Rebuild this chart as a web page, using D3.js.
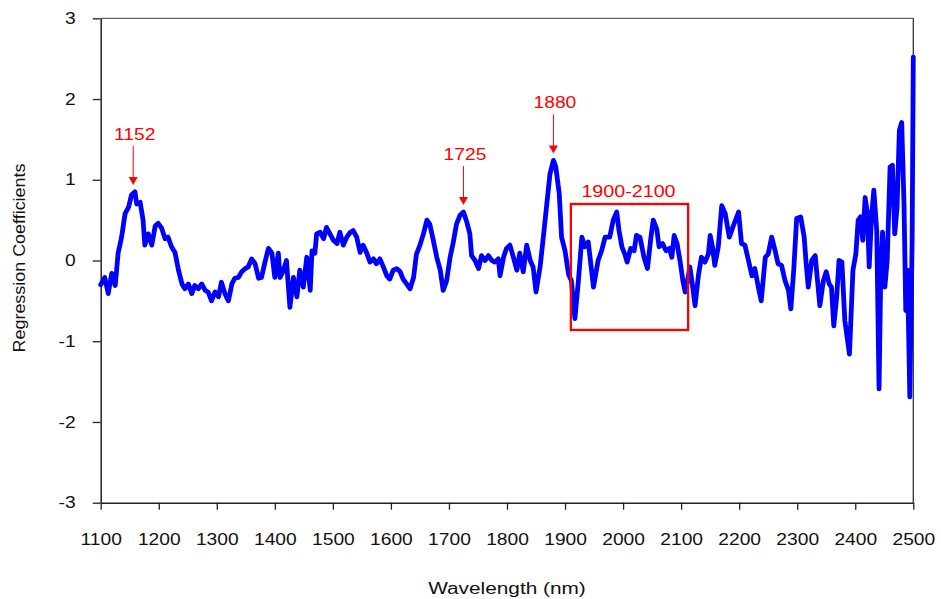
<!DOCTYPE html>
<html>
<head>
<meta charset="utf-8">
<script src="https://cdn.jsdelivr.net/npm/d3@7"></script>
<style>
  body { margin: 0; background: #fff; }
  svg { display: block; font-family: Arial, "Liberation Sans", sans-serif; }
</style>
</head>
<body>
<div id="chart"></div>
<script>
// values
const wavelengths = [
  1100, 1107, 1113, 1119, 1125, 1130, 1136, 1142, 1148, 1153,
  1159, 1162, 1168, 1173, 1176, 1182, 1188, 1194, 1199, 1205,
  1211, 1216, 1222, 1228, 1234, 1240, 1245, 1251, 1257, 1262,
  1268, 1274, 1280, 1285, 1291, 1297, 1303, 1308, 1314, 1320,
  1326, 1331, 1337, 1343, 1349, 1354, 1360, 1366, 1372, 1377,
  1383, 1389, 1395, 1400, 1406, 1409, 1415, 1420, 1426, 1432,
  1438, 1443, 1449, 1455, 1461, 1464, 1469, 1472, 1478, 1484,
  1489, 1495, 1501, 1507, 1512, 1518, 1524, 1530, 1535, 1541,
  1547, 1552, 1558, 1564, 1570, 1575, 1581, 1587, 1593, 1598,
  1604, 1610, 1616, 1621, 1627, 1633, 1639, 1644, 1650, 1656,
  1662, 1667, 1673, 1679, 1685, 1690, 1696, 1702, 1707, 1713,
  1719, 1725, 1731, 1736, 1739, 1745, 1751, 1756, 1762, 1768,
  1774, 1779, 1785, 1788, 1794, 1799, 1805, 1811, 1817, 1822,
  1828, 1834, 1840, 1845, 1850, 1857, 1862, 1868, 1874, 1880,
  1884, 1890, 1894, 1900, 1906, 1911, 1917, 1923, 1929, 1934,
  1940, 1949, 1957, 1963, 1969, 1977, 1983, 1989, 1993, 1998,
  2003, 2007, 2013, 2019, 2023, 2029, 2036, 2042, 2048, 2052,
  2058, 2062, 2068, 2074, 2080, 2084, 2088, 2093, 2098, 2103,
  2107, 2111, 2115, 2120, 2124, 2130, 2135, 2141, 2147, 2150,
  2154, 2158, 2164, 2170, 2176, 2183, 2190, 2199, 2204, 2210,
  2216, 2222, 2227, 2233, 2238, 2245, 2250, 2256, 2262, 2267,
  2273, 2279, 2285, 2289, 2294, 2299, 2306, 2312, 2315, 2319,
  2325, 2331, 2335, 2339, 2345, 2350, 2355, 2359, 2363, 2368,
  2372, 2377, 2382, 2390, 2396, 2401, 2405, 2409, 2413, 2417,
  2421, 2424, 2428, 2432, 2437, 2441, 2444, 2447, 2451, 2455,
  2460, 2464, 2468, 2472, 2476, 2480, 2484, 2487, 2490, 2494,
  2498, 2500
];
const coefficients = [
  -0.30, -0.21, -0.41, -0.16, -0.31, 0.09, 0.29, 0.58, 0.66, 0.81,
  0.85, 0.70, 0.72, 0.50, 0.19, 0.33, 0.19, 0.43, 0.46, 0.40,
  0.27, 0.29, 0.17, 0.10, -0.12, -0.29, -0.35, -0.29, -0.41, -0.31,
  -0.35, -0.29, -0.37, -0.39, -0.50, -0.39, -0.45, -0.27, -0.41, -0.50,
  -0.29, -0.22, -0.21, -0.14, -0.10, -0.08, 0.02, -0.04, -0.22, -0.21,
  -0.02, 0.15, 0.09, -0.21, 0.09, -0.21, -0.12, 0.00, -0.58, -0.21,
  -0.45, -0.12, -0.33, 0.04, -0.37, 0.12, 0.09, 0.33, 0.35, 0.27,
  0.41, 0.33, 0.25, 0.21, 0.35, 0.19, 0.29, 0.35, 0.37, 0.29,
  0.10, 0.19, 0.10, -0.02, 0.02, -0.04, 0.02, -0.08, -0.19, -0.23,
  -0.12, -0.10, -0.14, -0.23, -0.29, -0.35, -0.21, 0.08, 0.19, 0.33,
  0.50, 0.45, 0.25, 0.04, -0.12, -0.37, -0.25, 0.04, 0.21, 0.45,
  0.56, 0.60, 0.47, 0.33, 0.06, 0.00, -0.10, 0.06, 0.00, 0.06,
  0.00, -0.02, 0.02, -0.19, 0.04, 0.15, 0.19, 0.04, -0.12, 0.09,
  -0.14, 0.19, 0.00, -0.08, -0.39, -0.08, 0.25, 0.66, 1.07, 1.24,
  1.16, 0.83, 0.29, 0.12, -0.17, -0.25, -0.72, -0.25, 0.29, 0.17,
  0.23, -0.33, 0.00, 0.12, 0.29, 0.29, 0.50, 0.60, 0.37, 0.17,
  0.08, -0.02, 0.15, 0.12, 0.31, 0.29, 0.04, -0.10, 0.29, 0.50,
  0.39, 0.17, 0.21, 0.12, 0.15, 0.04, 0.31, 0.21, 0.00, -0.25,
  -0.39, -0.25, -0.08, -0.33, -0.56, -0.17, 0.04, -0.02, 0.08, 0.31,
  0.17, -0.06, 0.17, 0.68, 0.58, 0.29, 0.43, 0.60, 0.21, 0.19,
  0.00, -0.19, -0.10, -0.33, -0.50, 0.04, 0.08, 0.29, 0.12, -0.04,
  -0.06, -0.25, -0.37, -0.60, -0.12, 0.52, 0.54, 0.29, 0.00, -0.33,
  0.00, 0.06, -0.25, -0.56, -0.25, -0.14, -0.29, -0.33, -0.81, -0.45,
  0.00, -0.02, -0.74, -1.16, -0.12, 0.08, 0.50, 0.54, 0.25, 0.78,
  0.58, -0.08, 0.54, 0.87, 0.37, -1.59, -0.12, 0.35, -0.33, 0.00,
  1.16, 1.18, 0.33, 0.66, 1.61, 1.71, 0.70, -0.62, -0.12, -1.69,
  0.25, 2.52
];

const xTicks = d3.range(1100, 2501, 100);
const yTicks = [-3, -2, -1, 0, 1, 2, 3];

const peakLabels = ['1152', '1725', '1880'];
const peakWavelengths = [1156, 1725, 1880];

const regionLabel = '1900-2100';
const regionWavelengths = [1910, 2112];
const regionCoefficients = [-0.86, 0.70];

const width = 941, height = 599;
const margin = { top: 18.3, right: 27.7, bottom: 96.3, left: 100.7 };

const svg = d3.select('#chart')
  .append('svg')
  .attr('width', width)
  .attr('height', height);

const x = d3.scaleLinear()
  .domain([1100, 2500])
  .range([margin.left, width - margin.right]);

const y = d3.scaleLinear()
  .domain([-3, 3])
  .range([height - margin.bottom, margin.top]);

// the source picture has wide glyphs, so stretch text along its run
function stretch(sel, k) {
  sel.each(function () {
    this.setAttribute('textLength', this.getComputedTextLength() * k);
    this.setAttribute('lengthAdjust', 'spacingAndGlyphs');
  });
}

// frame top / right
svg.append('line')
  .attr('x1', x(1100)).attr('x2', x(2500))
  .attr('y1', y(3)).attr('y2', y(3))
  .attr('stroke', '#666').attr('stroke-width', 1.2);
svg.append('line')
  .attr('x1', x(2500)).attr('x2', x(2500))
  .attr('y1', y(3)).attr('y2', y(-3))
  .attr('stroke', '#333').attr('stroke-width', 1.3);

const xAxis = svg.append('g')
  .attr('transform', `translate(0,${y(-3)})`)
  .call(d3.axisBottom(x).tickValues(xTicks).tickSize(7).tickSizeOuter(0).tickPadding(24).tickFormat(d => String(d)));

const yAxis = svg.append('g')
  .attr('transform', `translate(${x(1100)},0)`)
  .call(d3.axisLeft(y).tickValues(yTicks).tickSize(8).tickSizeOuter(0).tickPadding(17).tickFormat(d => String(d)));

[xAxis, yAxis].forEach(a => {
  a.select('.domain').attr('stroke', '#222').attr('stroke-width', 1.5);
  a.selectAll('.tick line').attr('stroke', '#222').attr('stroke-width', 1.3);
  a.selectAll('.tick text')
    .attr('fill', '#111')
    .style('font-size', '16px')
    .style('font-family', 'Arial, "Liberation Sans", sans-serif');
});
stretch(xAxis.selectAll('.tick text'), 1.2);
stretch(yAxis.selectAll('.tick text'), 1.2);

// axis titles
const xTitle = svg.append('text')
  .attr('x', 507).attr('y', 594)
  .attr('text-anchor', 'middle')
  .attr('fill', '#111')
  .style('font-size', '16px')
  .text('Wavelength (nm)');
stretch(xTitle, 1.3);

const yTitle = svg.append('text')
  .attr('transform', `translate(25,${y(0) - 2.5}) rotate(-90)`)
  .attr('text-anchor', 'middle')
  .attr('fill', '#111')
  .style('font-size', '16px')
  .text('Regression Coefficients');
stretch(yTitle, 1.12);

// spectrum
const series = wavelengths.map((w, i) => [w, coefficients[i]]);

svg.append('path')
  .datum(series)
  .attr('fill', 'none')
  .attr('stroke', '#0000ff')
  .attr('stroke-width', 4.8)
  .attr('stroke-linejoin', 'round')
  .attr('stroke-linecap', 'round')
  .attr('d', d3.line().x(d => x(d[0])).y(d => y(d[1])));

// peak arrows
const red = '#ff0000';
peakLabels.forEach((label, i) => {
  const w = peakWavelengths[i];
  const top = d3.max(series.filter(p => Math.abs(p[0] - w) <= 8), p => p[1]);
  const cx = x(w);
  const tip = y(top) - 7;

  svg.append('line')
    .attr('x1', cx).attr('x2', cx)
    .attr('y1', tip - 39).attr('y2', tip - 6)
    .attr('stroke', red).attr('stroke-width', 1);

  svg.append('path')
    .attr('d', `M${cx - 4.5},${tip - 8}L${cx + 4.5},${tip - 8}L${cx},${tip}Z`)
    .attr('fill', red);

  const t = svg.append('text')
    .attr('x', cx + 1.5).attr('y', tip - 45)
    .attr('text-anchor', 'middle')
    .attr('fill', red)
    .style('font-size', '16px')
    .text(label);
  stretch(t, 1.2);
});

// highlighted region
svg.append('rect')
  .attr('x', x(regionWavelengths[0]))
  .attr('y', y(regionCoefficients[1]))
  .attr('width', x(regionWavelengths[1]) - x(regionWavelengths[0]))
  .attr('height', y(regionCoefficients[0]) - y(regionCoefficients[1]))
  .attr('fill', 'none')
  .attr('stroke', red)
  .attr('stroke-width', 2.3);

const rt = svg.append('text')
  .attr('x', (x(regionWavelengths[0]) + x(regionWavelengths[1])) / 2 - 1)
  .attr('y', y(regionCoefficients[1]) - 7)
  .attr('text-anchor', 'middle')
  .attr('fill', red)
  .style('font-size', '16px')
  .text(regionLabel);
stretch(rt, 1.23);
</script>
</body>
</html>
